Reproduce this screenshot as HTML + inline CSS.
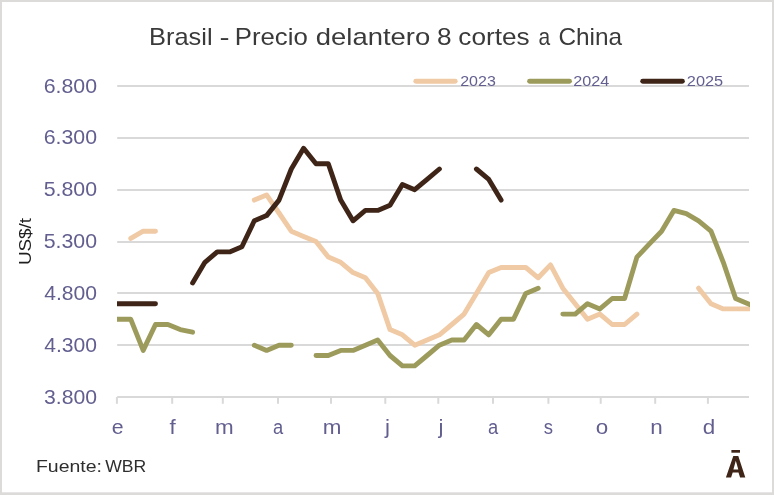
<!DOCTYPE html>
<html><head><meta charset="utf-8"><style>
html,body{margin:0;padding:0;background:#fff;}
body{width:774px;height:495px;overflow:hidden;position:relative;}
svg{position:absolute;left:0;top:0;display:block;}
svg.tx{will-change:transform;opacity:0.999;}
text{font-family:"Liberation Sans",sans-serif;}
</style></head><body>
<svg width="774" height="495" viewBox="0 0 774 495">
<rect x="0" y="0" width="774" height="495" fill="#dddada"/>
<rect x="2" y="2" width="770" height="490.3" fill="#ffffff"/>
<g stroke="#d9d9d9" stroke-width="2" fill="none"><line x1="117.2" x2="749.0" y1="397" y2="397"/><line x1="117.2" x2="749.0" y1="345" y2="345"/><line x1="117.2" x2="749.0" y1="293" y2="293"/><line x1="117.2" x2="749.0" y1="242" y2="242"/><line x1="117.2" x2="749.0" y1="190" y2="190"/><line x1="117.2" x2="749.0" y1="138" y2="138"/><line x1="117.2" x2="749.0" y1="86" y2="86"/><line x1="116.9" x2="116.9" y1="397.0" y2="403.8"/><line x1="172.2" x2="172.2" y1="397.0" y2="403.8"/><line x1="222.8" x2="222.8" y1="397.0" y2="403.8"/><line x1="278.0" x2="278.0" y1="397.0" y2="403.8"/><line x1="331.0" x2="331.0" y1="397.0" y2="403.8"/><line x1="385.3" x2="385.3" y1="397.0" y2="403.8"/><line x1="438.3" x2="438.3" y1="397.0" y2="403.8"/><line x1="493.0" x2="493.0" y1="397.0" y2="403.8"/><line x1="548.4" x2="548.4" y1="397.0" y2="403.8"/><line x1="600.7" x2="600.7" y1="397.0" y2="403.8"/><line x1="655.2" x2="655.2" y1="397.0" y2="403.8"/><line x1="707.9" x2="707.9" y1="397.0" y2="403.8"/></g>

<defs><clipPath id="cp"><rect x="117" y="60" width="633" height="345"/></clipPath></defs>
<g clip-path="url(#cp)" fill="none" stroke-width="4.9" stroke-linecap="round" stroke-linejoin="round">
<path stroke="#f0c9a5" d="M130.8 238.4 L143.2 231.2 L155.5 231.2 M254.3 200.1 L266.6 194.9 L279.0 213.0 L291.3 231.2 L303.6 236.4 L316.0 241.5 L328.3 257.1 L340.7 262.3 L353.0 272.6 L365.4 277.8 L377.7 293.4 L390.0 329.6 L402.4 334.8 L414.7 345.2 L427.1 340.0 L439.4 334.8 L451.8 324.5 L464.1 314.1 L476.4 293.4 L488.8 272.6 L501.1 267.5 L513.5 267.5 L525.8 267.5 L538.2 277.8 L550.5 264.9 L562.8 288.2 L575.2 303.7 L587.5 319.3 L599.9 314.1 L612.2 324.5 L624.6 324.5 L636.9 314.1 M698.6 288.2 L711.0 303.7 L723.3 308.9 L735.6 308.9 L748.0 308.9 L760.3 308.9"/>
<path stroke="#9d9b5b" d="M106.2 319.3 L118.5 319.3 L130.8 319.3 L143.2 350.4 L155.5 324.5 L167.9 324.5 L180.2 329.6 L192.6 332.2 M254.3 345.2 L266.6 350.4 L279.0 345.2 L291.3 345.2 M316.0 355.5 L328.3 355.5 L340.7 350.4 L353.0 350.4 L365.4 345.2 L377.7 340.0 L390.0 355.5 L402.4 365.9 L414.7 365.9 L427.1 355.5 L439.4 345.2 L451.8 340.0 L464.1 340.0 L476.4 324.5 L488.8 334.8 L501.1 319.3 L513.5 319.3 L525.8 293.4 L538.2 288.2 M562.8 314.1 L575.2 314.1 L587.5 303.7 L599.9 308.9 L612.2 298.5 L624.6 298.5 L636.9 257.1 L649.2 244.1 L661.6 231.2 L673.9 210.4 L686.3 213.6 L698.6 220.8 L711.0 231.2 L723.3 262.3 L735.6 298.5 L748.0 303.7 L760.3 308.9"/>
<path stroke="#3e2517" d="M106.2 303.7 L118.5 303.7 L130.8 303.7 L143.2 303.7 L155.5 303.7 M192.6 283.0 L204.9 262.3 L217.2 251.9 L229.6 251.9 L241.9 246.7 L254.3 220.8 L266.6 215.6 L279.0 200.1 L291.3 169.0 L303.6 148.3 L316.0 163.8 L328.3 163.8 L340.7 200.1 L353.0 220.8 L365.4 210.4 L377.7 210.4 L390.0 205.3 L402.4 184.5 L414.7 189.7 L427.1 179.4 L439.4 169.0 M476.4 169.0 L488.8 179.4 L501.1 200.1"/>
</g>
<g fill="none" stroke-width="4.9" stroke-linecap="round">
<line stroke="#f0c9a5" x1="415.8" x2="455.2" y1="81.2" y2="81.2"/>
<line stroke="#9d9b5b" x1="529.6" x2="569.5" y1="81.2" y2="81.2"/>
<line stroke="#3e2517" x1="642.7" x2="682.4" y1="81.2" y2="81.2"/>
</g>
<g fill="#3e2517">
<rect x="731.4" y="450" width="8.6" height="2.7"/>
<path fill-rule="evenodd" d="M725.9 477.4 L733.3 455.9 L738.3 455.9 L745.3 477.4 L740.1 477.4 L738.5 472.4 L732.7 472.4 L731.1 477.4 Z M735.8 460.8 L733.4 469.4 L738.3 469.4 Z"/>
</g>
</svg>
<svg class="tx" width="774" height="495" viewBox="0 0 774 495">
<text x="149.06" y="44.70" font-size="23.8" fill="#3a3a3a" textLength="63.55" lengthAdjust="spacingAndGlyphs">Brasil</text>
<text x="219.53" y="44.70" font-size="23.8" fill="#3a3a3a" textLength="10.08" lengthAdjust="spacingAndGlyphs">-</text>
<text x="234.74" y="44.70" font-size="23.8" fill="#3a3a3a" textLength="73.00" lengthAdjust="spacingAndGlyphs">Precio</text>
<text x="315.85" y="44.70" font-size="23.8" fill="#3a3a3a" textLength="114.39" lengthAdjust="spacingAndGlyphs">delantero</text>
<text x="437.00" y="44.70" font-size="23.8" fill="#3a3a3a" textLength="14.60" lengthAdjust="spacingAndGlyphs">8</text>
<text x="458.30" y="44.70" font-size="23.8" fill="#3a3a3a" textLength="71.29" lengthAdjust="spacingAndGlyphs">cortes</text>
<text x="538.42" y="44.70" font-size="23.8" fill="#3a3a3a" textLength="11.68" lengthAdjust="spacingAndGlyphs">a</text>
<text x="558.42" y="44.70" font-size="23.8" fill="#3a3a3a" textLength="63.72" lengthAdjust="spacingAndGlyphs">China</text>
<text x="43.94" y="403.50" font-size="20.8" fill="#625f90" textLength="53.08" lengthAdjust="spacingAndGlyphs">3.800</text>
<text x="44.19" y="351.68" font-size="20.8" fill="#625f90" textLength="52.82" lengthAdjust="spacingAndGlyphs">4.300</text>
<text x="44.19" y="299.86" font-size="20.8" fill="#625f90" textLength="52.82" lengthAdjust="spacingAndGlyphs">4.800</text>
<text x="43.68" y="248.04" font-size="20.8" fill="#625f90" textLength="53.34" lengthAdjust="spacingAndGlyphs">5.300</text>
<text x="43.68" y="196.22" font-size="20.8" fill="#625f90" textLength="53.34" lengthAdjust="spacingAndGlyphs">5.800</text>
<text x="43.68" y="144.40" font-size="20.8" fill="#625f90" textLength="53.34" lengthAdjust="spacingAndGlyphs">6.300</text>
<text x="43.68" y="92.58" font-size="20.8" fill="#625f90" textLength="53.34" lengthAdjust="spacingAndGlyphs">6.800</text>
<text x="460.18" y="85.90" font-size="14.6" fill="#625f90" textLength="35.61" lengthAdjust="spacingAndGlyphs">2023</text>
<text x="573.17" y="85.90" font-size="14.6" fill="#625f90" textLength="36.05" lengthAdjust="spacingAndGlyphs">2024</text>
<text x="686.86" y="85.90" font-size="14.6" fill="#625f90" textLength="36.34" lengthAdjust="spacingAndGlyphs">2025</text>
<text x="35.98" y="471.60" font-size="17" fill="#2e2e2e" textLength="66.01" lengthAdjust="spacingAndGlyphs">Fuente:</text>
<text x="105.24" y="471.60" font-size="17" fill="#2e2e2e" textLength="41.01" lengthAdjust="spacingAndGlyphs">WBR</text>
<text x="111.85" y="433.50" font-size="20" fill="#625f90" textLength="11.83" lengthAdjust="spacingAndGlyphs">e</text>
<text x="169.58" y="433.50" font-size="20" fill="#625f90" textLength="6.23" lengthAdjust="spacingAndGlyphs">f</text>
<text x="214.96" y="433.50" font-size="20" fill="#625f90" textLength="18.67" lengthAdjust="spacingAndGlyphs">m</text>
<text x="272.91" y="433.50" font-size="20" fill="#625f90" textLength="10.20" lengthAdjust="spacingAndGlyphs">a</text>
<text x="322.66" y="433.50" font-size="20" fill="#625f90" textLength="18.67" lengthAdjust="spacingAndGlyphs">m</text>
<text x="384.90" y="433.50" font-size="20" fill="#625f90" textLength="4.99" lengthAdjust="spacingAndGlyphs">j</text>
<text x="438.40" y="433.50" font-size="20" fill="#625f90" textLength="4.99" lengthAdjust="spacingAndGlyphs">j</text>
<text x="487.91" y="433.50" font-size="20" fill="#625f90" textLength="10.20" lengthAdjust="spacingAndGlyphs">a</text>
<text x="543.79" y="433.50" font-size="20" fill="#625f90" textLength="9.26" lengthAdjust="spacingAndGlyphs">s</text>
<text x="595.84" y="433.50" font-size="20" fill="#625f90" textLength="12.46" lengthAdjust="spacingAndGlyphs">o</text>
<text x="650.24" y="433.50" font-size="20" fill="#625f90" textLength="12.46" lengthAdjust="spacingAndGlyphs">n</text>
<text x="702.82" y="433.50" font-size="20" fill="#625f90" textLength="12.46" lengthAdjust="spacingAndGlyphs">d</text>
<text transform="translate(31.2,265.08) rotate(-90)" font-size="17" fill="#1f1f1f" textLength="47.12" lengthAdjust="spacingAndGlyphs">US$/t</text>
</svg>
</body></html>
